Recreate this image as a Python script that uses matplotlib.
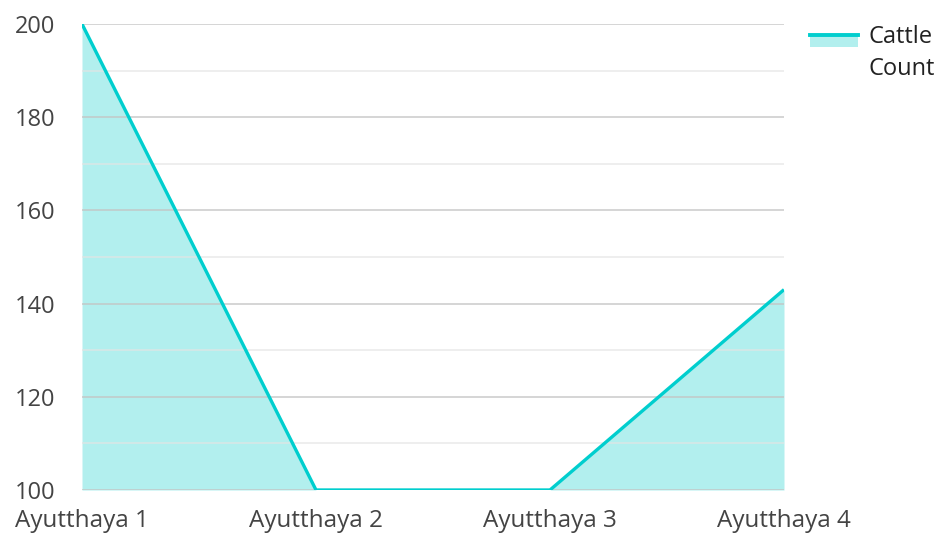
import matplotlib.pyplot as plt
from matplotlib.patches import Rectangle
from matplotlib.lines import Line2D

plt.rcParams['font.family'] = ['Open Sans', 'DejaVu Sans']

# data
places = ['Ayutthaya 1', 'Ayutthaya 2', 'Ayutthaya 3', 'Ayutthaya 4']
cattle = [200, 100, 100, 143]
series_name = ['Cattle', 'Count']

line_col = '#00cece'
fill_col = '#b2efee'
text_col = '#444444'

W, H = 941, 533
fig = plt.figure(figsize=(W / 100, H / 100), dpi=100)
ax = fig.add_axes([82 / W, (H - 490) / H, (784 - 82) / W, (490 - 24) / H])

x = list(range(len(places)))
ax.fill_between(x, cattle, 100, color=fill_col, lw=0, zorder=1)
ax.plot(x, cattle, color=line_col, lw=2.4, zorder=3, solid_capstyle='butt')

ax.set_xlim(0, len(places) - 1)
ax.set_ylim(100, 200)
for v in range(100, 201, 10):
    if v % 20 == 0:
        ax.axhline(v, color='#c4c4c4', lw=1.1, zorder=2, alpha=0.9)
    else:
        ax.axhline(v, color='#e4e4e4', lw=1.1, zorder=2, alpha=0.8)

ax.set_yticks(range(100, 201, 20))
ax.set_xticks(x)
ax.set_xticklabels(places)
ax.tick_params(length=0, labelsize=17, colors=text_col)
ax.tick_params(axis='x', labelsize=17.5, pad=14)
ax.tick_params(axis='y', pad=19)
for s in ax.spines.values():
    s.set_visible(False)

# legend drawn by hand at the top right
fig.patches.append(Rectangle((810 / W, 1 - 47 / H), 48 / W, 11 / H,
                             transform=fig.transFigure, color=fill_col, lw=0))
fig.lines.append(Line2D([810 / W, 858 / W], [1 - 35 / H, 1 - 35 / H],
                        transform=fig.transFigure, color=line_col, lw=2.8))
for i, word in enumerate(series_name):
    fig.text(868 / W, 1 - (37 + 32 * i) / H, word, fontsize=17, color='#222222',
             va='center', ha='left')

fig.savefig('out.png', dpi=100)
